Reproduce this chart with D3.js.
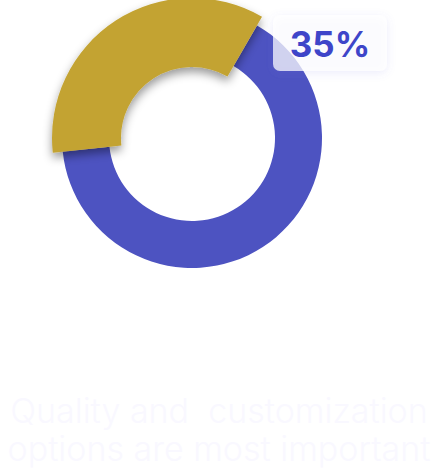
<!DOCTYPE html>
<html><head><meta charset="utf-8">
<script src="https://cdn.jsdelivr.net/npm/d3@7"></script>
<style>html,body{margin:0;padding:0;background:#fff;}svg{display:block;}</style>
</head><body>
<svg id="chart" width="438" height="469"></svg>
<script>
const categories = ["Other", "Quality and customization"];
const values = [65, 35];
const colors = ["#4d53c1", "#c3a332"];
const highlightLabel = "35%";
const captionLines = ["Quality and  customization", "options are most important"];

const svg = d3.select("#chart");
const defs = svg.append("defs");
const sh = defs.append("filter").attr("id","shadow").attr("x","-30%").attr("y","-30%").attr("width","160%").attr("height","160%");
sh.append("feDropShadow").attr("dx",0).attr("dy",5).attr("stdDeviation",5).attr("flood-color","#000").attr("flood-opacity",0.4);
const sh2 = defs.append("filter").attr("id","boxshadow").attr("x","-30%").attr("y","-50%").attr("width","160%").attr("height","200%");
sh2.append("feDropShadow").attr("dx",0).attr("dy",2).attr("stdDeviation",4).attr("flood-color","#6a6fe0").attr("flood-opacity",0.18);

const cx = 192, cy = 138;
const g = svg.append("g").attr("transform", `translate(${cx},${cy})`);
const pie = d3.pie().sort(null).startAngle(Math.PI*30/180).endAngle(Math.PI*30/180 + 2*Math.PI);
const arcs = pie(values);
const arcNormal = d3.arc().innerRadius(83).outerRadius(130);
const arcHi = d3.arc().innerRadius(71).outerRadius(140);

g.append("path").datum(arcs[0]).attr("d", arcNormal).attr("fill", colors[0]);
g.append("path").datum(arcs[1]).attr("d", arcHi).attr("fill", colors[1]).attr("filter","url(#shadow)");

// label box
const box = svg.append("g").attr("transform","translate(273,15)");
box.append("rect").attr("width",114).attr("height",56).attr("rx",7)
  .attr("fill","rgba(255,255,255,0.72)").attr("filter","url(#boxshadow)");
box.append("text").attr("x",57).attr("y",42).attr("text-anchor","middle")
  .attr("font-family","Inter, 'Noto Sans', sans-serif").attr("font-weight",700)
  .attr("font-size",35).attr("fill","#3e45c9").text(highlightLabel);

// caption
const cap = svg.append("text").attr("text-anchor","middle")
  .attr("font-family","Inter, 'Noto Sans', sans-serif").attr("font-weight",300)
  .attr("font-size",34).attr("fill","#f9f8ff").attr("xml:space","preserve");
captionLines.forEach((t,i)=>{
  cap.append("tspan").attr("x",219).attr("y",423 + i*38).text(t);
});
</script>
</body></html>
